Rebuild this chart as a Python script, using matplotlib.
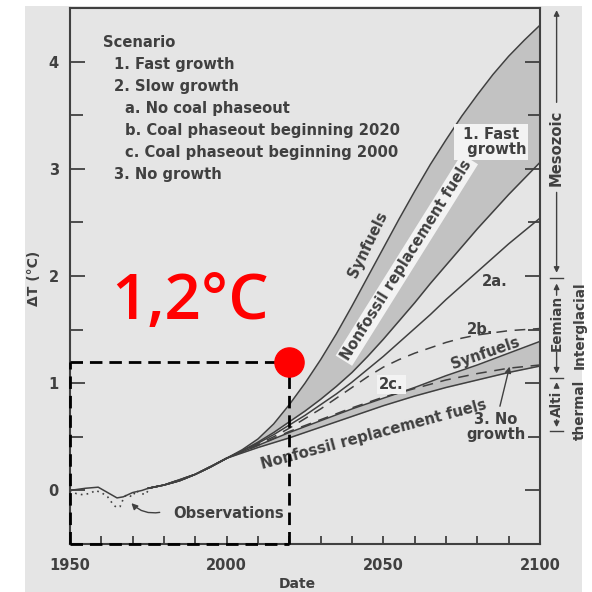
import numpy as np
import matplotlib
matplotlib.use("Agg")
import matplotlib.pyplot as plt
from matplotlib.patches import Rectangle, FancyArrowPatch

# fast growth and 2a projections (deg C), five-year steps
years_fine = [1975, 1980, 1985, 1990, 1995, 2000, 2005, 2010, 2015, 2020, 2025, 2030, 2035,
              2040, 2045, 2050, 2055, 2060, 2065, 2070, 2075, 2080, 2085, 2090, 2095, 2100]
fast_syn = [0.02, 0.05, 0.09, 0.15, 0.22, 0.30, 0.38, 0.48, 0.62, 0.80, 1.00, 1.22, 1.46,
            1.72, 1.99, 2.26, 2.53, 2.79, 3.04, 3.27, 3.49, 3.69, 3.88, 4.05, 4.20, 4.34]
fast_nonfossil = [0.02, 0.05, 0.09, 0.15, 0.22, 0.30, 0.37, 0.45, 0.54, 0.64, 0.74, 0.85, 0.97,
                  1.10, 1.25, 1.41, 1.58, 1.75, 1.93, 2.10, 2.27, 2.44, 2.60, 2.76, 2.91, 3.06]
slow_2a = [0.02, 0.05, 0.09, 0.15, 0.22, 0.30, 0.37, 0.44, 0.52, 0.61, 0.70, 0.80, 0.90,
           1.01, 1.13, 1.25, 1.38, 1.51, 1.64, 1.78, 1.91, 2.04, 2.17, 2.30, 2.42, 2.54]
slow_2b = [0.02, 0.05, 0.09, 0.15, 0.22, 0.30, 0.36, 0.43, 0.50, 0.58, 0.67, 0.76, 0.86,
           0.96, 1.06, 1.15, 1.22, 1.28, 1.33, 1.38, 1.42, 1.45, 1.47, 1.49, 1.50, 1.51]

# coal phaseout 2000 and no growth projections, ten-year steps
years = [1975, 1980, 1990, 2000, 2010, 2020, 2030, 2040, 2050, 2060, 2070, 2080, 2090, 2100]
slow_2c = [0.02, 0.05, 0.15, 0.30, 0.42, 0.55, 0.66, 0.77, 0.87, 0.95, 1.03, 1.09, 1.14, 1.17]
nogrowth_syn = [0.02, 0.05, 0.15, 0.30, 0.42, 0.54, 0.65, 0.76, 0.86, 0.96, 1.07, 1.17, 1.28, 1.39]
nogrowth_nonfossil = [0.02, 0.05, 0.15, 0.30, 0.40, 0.49, 0.59, 0.69, 0.79, 0.88, 0.96, 1.03, 1.10, 1.16]

# observed record: smoothed and annual
obs_years = [1950, 1955, 1959, 1962, 1965, 1967, 1970, 1973, 1975]
obs_smooth = [0.0, 0.02, 0.03, -0.02, -0.07, -0.06, -0.02, 0.0, 0.02]
obs_annual_years = [1950, 1952, 1954, 1956, 1957, 1958, 1960, 1962, 1963, 1964, 1965, 1966,
                    1967, 1968, 1970, 1971, 1972, 1974, 1975]
obs_annual = [0.0, -0.03, -0.04, -0.03, -0.02, 0.0, -0.02, -0.06, -0.1, -0.14, -0.16, -0.15,
              -0.08, -0.04, -0.06, 0.0, -0.02, -0.04, 0.0]

# highlighted point
mark_year = 2020
mark_value = 1.2

legend_lines = ["Scenario", "1. Fast growth", "2. Slow growth", "a. No coal phaseout",
                "b. Coal phaseout beginning 2020", "c. Coal phaseout beginning 2000", "3. No growth"]
legend_indent = [0, 1, 1, 2, 2, 2, 1]

ink = "#404040"
paper = "#e5e5e5"
band = "#c2c2c2"
fs = 10.6
txt = dict(family="DejaVu Sans", weight="bold", color=ink)

fig = plt.figure(figsize=(5.92, 5.92), dpi=100)
fig.patch.set_facecolor("white")
fig.add_artist(Rectangle((25 / 592, 0), 557 / 592, 1 - 6 / 592, transform=fig.transFigure,
                         facecolor=paper, edgecolor="none", zorder=0))

ax = fig.add_axes([70 / 592, 1 - 544 / 592, 470 / 592, 536 / 592])
ax.set_facecolor("none")
ax.set_xlim(1950, 2100)
ax.set_ylim(-0.5, 4.5)

# shaded bands between synfuel and nonfossil cases
ax.fill_between(years_fine, fast_nonfossil, fast_syn, color=band, lw=0, zorder=1)
ax.fill_between(years, nogrowth_nonfossil, nogrowth_syn, color=band, lw=0, zorder=1)

lw = 1.1
for ys in (fast_syn, fast_nonfossil, slow_2a):
    ax.plot(years_fine, ys, color=ink, lw=lw, zorder=2)
for ys in (nogrowth_syn, nogrowth_nonfossil):
    ax.plot(years, ys, color=ink, lw=lw, zorder=2)
ax.plot(years_fine, slow_2b, color=ink, lw=lw, ls=(0, (7, 5)), zorder=2)
ax.plot(years, slow_2c, color=ink, lw=lw, ls=(0, (7, 5)), zorder=2)

ax.plot(obs_years, obs_smooth, color=ink, lw=lw, zorder=2)
ax.plot(obs_annual_years, obs_annual, color=ink, lw=1.2, ls=(0, (1, 2.5)), zorder=2)

# axes styling
for s in ax.spines.values():
    s.set_color(ink)
    s.set_linewidth(1.5)
ax.set_xticks([1950, 2000, 2050, 2100])
ax.set_xticks(np.arange(1960, 2100, 10), minor=True)
ax.set_yticks([0, 1, 2, 3, 4])
ax.set_yticks(np.arange(-0.5, 4.5, 0.5), minor=True)
ax.tick_params(axis="both", which="both", direction="in", color=ink, width=1.3)
ax.tick_params(axis="y", which="major", length=11, right=True)
ax.tick_params(axis="y", which="minor", length=9, right=True)
ax.tick_params(axis="x", which="both", length=6)
ax.tick_params(axis="y", which="both", pad=8)
ax.tick_params(axis="x", which="both", pad=10)
for lab in ax.get_xticklabels() + ax.get_yticklabels():
    lab.set_fontfamily("DejaVu Sans")
    lab.set_fontweight("bold")
    lab.set_color(ink)
    lab.set_fontsize(10.5)
ax.set_xlabel("Date", fontsize=10, **txt)
ax.set_ylabel("\u0394T (\u00b0C)", fontsize=10, **txt)
ax.xaxis.set_label_coords(0.483, -0.062)
ax.yaxis.set_label_coords(-0.061, 0.496)

# legend block
for i, (line, ind) in enumerate(zip(legend_lines, legend_indent)):
    x = [1960.5, 1964.0, 1967.6][ind]
    ax.text(x, 4.175 - i * 0.205, line, fontsize=fs, va="center", ha="left", **txt)

# curve labels
box = dict(boxstyle="square,pad=0.15", fc="#f3f3f3", ec="none")
ax.text(2084.5, 3.25, "1. Fast\n  growth", fontsize=fs, ha="center", va="center",
        linespacing=1.05, bbox=box, **txt)
ax.text(2045, 2.29, "Synfuels", rotation=64, fontsize=fs, ha="center", va="center", **txt)
ax.text(2057.5, 2.15, "Nonfossil replacement fuels", rotation=58, fontsize=fs, ha="center",
        va="center", bbox=box, **txt)
ax.text(2085.5, 1.95, "2a.", fontsize=fs, ha="center", va="center", **txt)
ax.text(2081, 1.5, "2b.", fontsize=fs, ha="center", va="center", **txt)
ax.text(2082.5, 1.28, "Synfuels", rotation=19, fontsize=fs, ha="center", va="center", **txt)
ax.text(2052.5, 0.99, "2c.", fontsize=fs, ha="center", va="center", bbox=box, **txt)
ax.text(2047, 0.52, "Nonfossil replacement fuels", rotation=15, fontsize=fs,
        ha="center", va="center", **txt)
ax.text(2086, 0.59, "3. No\ngrowth", fontsize=fs, ha="center", va="center",
        linespacing=1.05, **txt)
ax.annotate("", xy=(2090.5, 1.18), xytext=(2087, 0.76),
            arrowprops=dict(arrowstyle="-|>", color=ink, lw=1.0, mutation_scale=9))
ax.text(2000.5, -0.22, "Observations", fontsize=fs, ha="center", va="center", **txt)
ax.add_patch(FancyArrowPatch((1979.5, -0.2), (1969, -0.1), connectionstyle="arc3,rad=-0.3",
                             arrowstyle="-|>", color=ink, lw=1.0, mutation_scale=9))

# geological analogue scale beside the right axis
xs = 2105.3
sc = dict(clip_on=False, zorder=3)
fs_side = 9.8


def arrow(y0, y1):
    ax.annotate("", xy=(xs, y1), xytext=(xs, y0), annotation_clip=False,
                arrowprops=dict(arrowstyle="-|>", color=ink, lw=1.0, mutation_scale=8,
                                shrinkA=0, shrinkB=0))


def bar(y):
    ax.plot([xs - 2, xs + 2], [y, y], color=ink, lw=1.0, **sc)


arrow(3.62, 4.48)
ax.text(xs, 3.2, "Mesozoic", rotation=90, fontsize=fs, ha="center", va="center", **txt, **sc)
arrow(2.78, 2.03)
bar(1.98)
arrow(1.82, 1.93)
ax.text(xs, 1.56, "Eemian", rotation=90, fontsize=fs_side, ha="center", va="center", **txt, **sc)
arrow(1.29, 1.09)
bar(1.05)
arrow(0.97, 1.01)
ax.text(xs, 0.81, "Alti", rotation=90, fontsize=fs_side, ha="center", va="center", **txt, **sc)
arrow(0.66, 0.59)
bar(0.55)
ax.text(xs + 7.3, 1.54, "Interglacial", rotation=90, fontsize=fs_side, ha="center", va="center", **txt, **sc)
ax.text(xs + 7.3, 0.75, "thermal", rotation=90, fontsize=fs_side, ha="center", va="center", **txt, **sc)

# highlighted warming level: dashed box and dot
dash = dict(color="black", lw=2.0, ls=(0, (4.5, 2.5)), zorder=5, clip_on=False)
ax.plot([1950, mark_year], [mark_value, mark_value], **dash)
ax.plot([mark_year, mark_year], [-0.5, mark_value], **dash)
ax.plot([1950, 1950], [-0.5, mark_value], **dash)
ax.plot([1950, mark_year], [-0.5, -0.5], **dash)
ax.plot(mark_year, mark_value, "o", color="red", ms=21, zorder=6, clip_on=False)
ax.text(1988.3, mark_value + 0.55, f"{mark_value:.1f}\u00b0C".replace(".", ","), color="red",
        fontsize=46, family="Open Sans", weight="semibold", ha="center", va="center", zorder=6)

fig.savefig("out.png", dpi=100)
